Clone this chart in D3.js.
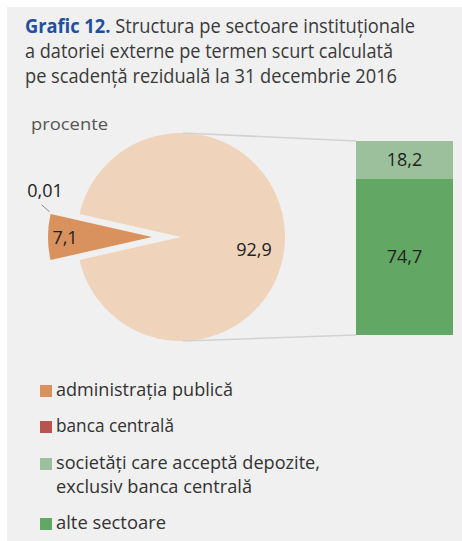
<!DOCTYPE html>
<html><head><meta charset="utf-8">
<script src="https://cdn.jsdelivr.net/npm/d3@7"></script>
<style>body{margin:0;background:#fff}svg{display:block}</style>
</head><body><svg id="c" width="462" height="541"></svg>
<script>
const titleBold = "Grafic 12.";
const titleLines = ["Structura pe sectoare instituționale", "a datoriei externe pe termen scurt calculată", "pe scadență reziduală la 31 decembrie 2016"];
const unitLabel = "procente";
const pieCategories = ["administrația publică", "banca centrală", "rest"];
const pieValues = [7.1, 0.01, 92.9];
const pieLabels = ["7,1", "0,01", "92,9"];
const barCategories = ["alte sectoare", "societăți care acceptă depozite, exclusiv banca centrală"];
const barValues = [74.7, 18.2];
const barLabels = ["74,7", "18,2"];
const legendItems = [
  {name: ["administrația publică"], color: "#d9925e"},
  {name: ["banca centrală"], color: "#b9534f"},
  {name: ["societăți care acceptă depozite,", "exclusiv banca centrală"], color: "#9bc09b"},
  {name: ["alte sectoare"], color: "#62a763"}
];
const pieColors = ["#d9925e", "#b9534f", "#f0d3bb"];
const barColors = ["#62a763", "#9bc09b"];

const svg = d3.select("#c");
const font = "'Open Sans', 'Noto Sans', sans-serif";
svg.append("rect").attr("x", 7).attr("y", 7).attr("width", 455).attr("height", 534).attr("fill", "#f0f0f0");

// Title
const t1 = svg.append("text").attr("x", 25).attr("y", 33).attr("font-family", font).attr("font-size", 20).attr("fill", "#3a3a3a")
  .attr("textLength", 390).attr("lengthAdjust", "spacingAndGlyphs");
t1.append("tspan").attr("font-weight", "bold").attr("fill", "#1f4f9f").text(titleBold + " ");
t1.append("tspan").text(titleLines[0]);
const tw = [368, 372];
[titleLines[1], titleLines[2]].forEach((s, i) => {
  svg.append("text").attr("x", 25).attr("y", 58 + i * 25).attr("font-family", font).attr("font-size", 20).attr("fill", "#3a3a3a")
    .attr("textLength", tw[i]).attr("lengthAdjust", "spacingAndGlyphs").text(s);
});
svg.append("text").attr("x", 31).attr("y", 130).attr("font-family", font).attr("font-size", 17).attr("fill", "#555")
  .attr("textLength", 77).attr("lengthAdjust", "spacingAndGlyphs").text(unitLabel);

// Pie
const cx = 181, cy = 237, r = 104, explode = 29;
const total = d3.sum(pieValues);
const a1 = 2 * Math.PI * pieValues[0] / total;
const pie = d3.pie().sort(null).startAngle(-Math.PI / 2 - a1 / 2).endAngle(-Math.PI / 2 - a1 / 2 + 2 * Math.PI);
const arcs = pie(pieValues);
const arc = d3.arc().innerRadius(0).outerRadius(r);
const g = svg.append("g").attr("transform", `translate(${cx},${cy})`);
arcs.forEach((d, i) => {
  const mid = (arcs[0].startAngle + arcs[0].endAngle) / 2;
  const off = i < 2 ? explode : 0;
  const dx = off * Math.sin(mid), dy = -off * Math.cos(mid);
  g.append("path").attr("d", arc(d)).attr("fill", pieColors[i]).attr("transform", `translate(${dx},${dy})`);
});
// labels
g.append("text").attr("x", -116).attr("y", 7).attr("text-anchor", "middle").attr("font-family", font).attr("font-size", 18).attr("fill", "#222").text(pieLabels[0]);
g.append("text").attr("x", 73).attr("y", 19).attr("text-anchor", "middle").attr("font-family", font).attr("font-size", 18).attr("fill", "#222").text(pieLabels[2]);
// 0,01 leader
const d1 = arcs[1];
const pA = d3.pointRadial(d1.startAngle, r + 1);
const lx = pA[0] - explode, ly = pA[1];
g.append("line").attr("x1", lx).attr("y1", ly - 2).attr("x2", lx - 8).attr("y2", ly - 9).attr("stroke", "#888").attr("stroke-width", 1);
g.append("text").attr("x", -136).attr("y", -40).attr("text-anchor", "middle").attr("font-family", font).attr("font-size", 18).attr("fill", "#222").text(pieLabels[1]);

// Bar
const barX = 356, barW = 97;
const y = d3.scaleLinear().domain([0, d3.sum(barValues)]).range([335, 141]);
const stack = [];
let acc = 0;
barValues.forEach((v, i) => { stack.push({v, y0: acc, y1: acc + v, i}); acc += v; });
// connectors
svg.append("line").attr("x1", cx + 2).attr("y1", cy - r).attr("x2", barX).attr("y2", y(acc)).attr("stroke", "#d2d2d2").attr("stroke-width", 1.5);
svg.append("line").attr("x1", cx + 2).attr("y1", cy + r).attr("x2", barX).attr("y2", y(0)).attr("stroke", "#d2d2d2").attr("stroke-width", 1.5);
svg.selectAll("rect.bar").data(stack).enter().append("rect").attr("class", "bar")
  .attr("x", barX).attr("width", barW).attr("y", d => y(d.y1)).attr("height", d => y(d.y0) - y(d.y1)).attr("fill", d => barColors[d.i]);
svg.selectAll("text.bl").data(stack).enter().append("text").attr("class", "bl")
  .attr("x", barX + barW / 2).attr("y", d => (y(d.y0) + y(d.y1)) / 2 + 6).attr("text-anchor", "middle")
  .attr("font-family", font).attr("font-size", 18).attr("fill", "#222").text(d => barLabels[d.i]);

// Legend
const rowsY = [396, 432, 469, 529];
const legW = [[177], [118], [264, 196], [110]];
legendItems.forEach((it, i) => {
  svg.append("rect").attr("x", 40).attr("y", rowsY[i] - 11).attr("width", 12).attr("height", 12).attr("fill", it.color);
  it.name.forEach((s, j) => {
    svg.append("text").attr("x", 56).attr("y", rowsY[i] + j * 24).attr("font-family", font).attr("font-size", 18).attr("fill", "#333")
      .attr("textLength", legW[i][j]).attr("lengthAdjust", "spacingAndGlyphs").text(s);
  });
});
</script></body></html>
